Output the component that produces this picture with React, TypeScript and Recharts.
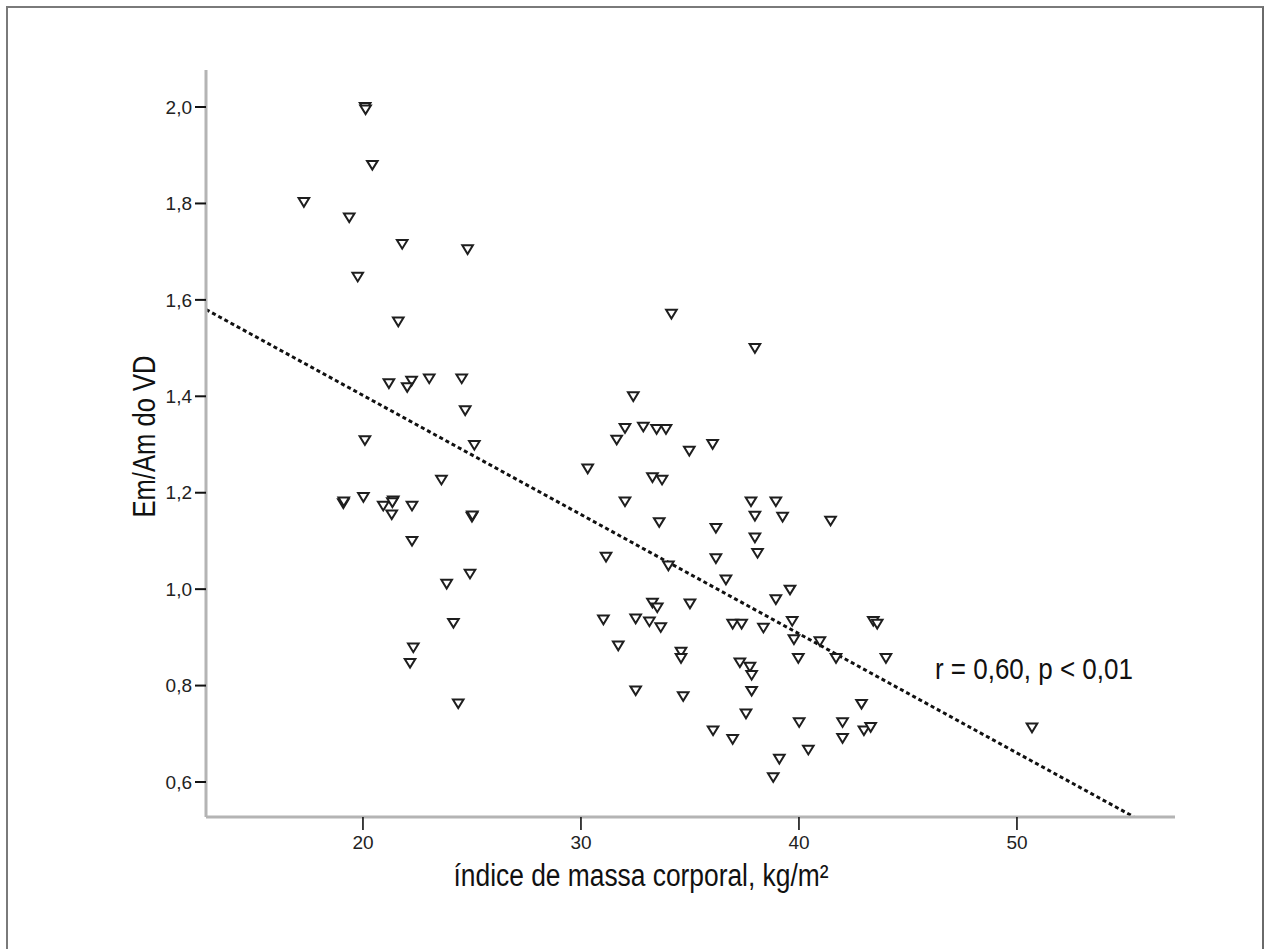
import React from 'react';
import { ScatterChart, Scatter, XAxis, YAxis, ReferenceLine, ReferenceDot } from 'recharts';

// índice de massa corporal (kg/m²)
const bmi = [
  20.1, 20.12, 20.43, 17.29, 19.37, 21.8, 24.8, 19.76, 21.62, 21.19, 22.23, 22.03, 23.04, 24.53,
  24.69, 25.11, 20.09, 23.6, 19.1, 19.12, 20.02, 20.93, 21.39, 21.35, 21.32, 22.25, 25.0, 25.02,
  22.25, 24.91, 23.84, 24.15, 22.31, 22.16, 24.37,
  34.15, 32.4, 32.02, 32.86, 33.47, 33.9, 31.64, 34.97, 36.04, 30.31, 33.28, 33.72, 32.02, 33.59,
  36.19, 31.15, 36.19, 34.01, 36.65, 33.28, 33.5, 35.0, 31.03, 32.51, 33.14, 33.66, 36.96, 37.37,
  31.71, 34.59, 34.59, 37.29, 32.51, 34.69, 36.06, 36.96,
  37.98, 37.8, 38.94, 37.98, 39.25, 41.45, 37.98, 38.1, 39.59, 38.94, 38.37, 39.69, 39.77, 40.96,
  43.41, 43.59, 39.97, 41.7, 43.99, 37.75, 37.83, 37.83, 37.57, 42.87, 40.01, 42.0, 42.0, 42.98,
  43.29, 40.43, 39.1, 38.82, 50.69,
];

// Em/Am do VD
const emAm = [
  2.0, 1.995, 1.88, 1.803, 1.771, 1.716, 1.705, 1.648, 1.555, 1.427, 1.432, 1.419, 1.437, 1.437,
  1.371, 1.299, 1.309, 1.227, 1.178, 1.182, 1.191, 1.173, 1.184, 1.18, 1.155, 1.173, 1.15, 1.153,
  1.1, 1.032, 1.011, 0.93, 0.879, 0.847, 0.763,
  1.571, 1.4, 1.334, 1.337, 1.332, 1.332, 1.31, 1.287, 1.301, 1.25, 1.232, 1.227, 1.182, 1.139,
  1.127, 1.067, 1.064, 1.049, 1.02, 0.972, 0.962, 0.97, 0.937, 0.939, 0.933, 0.921, 0.928, 0.928,
  0.883, 0.87, 0.857, 0.848, 0.79, 0.778, 0.707, 0.689,
  1.5, 1.182, 1.182, 1.152, 1.15, 1.142, 1.107, 1.075, 0.999, 0.979, 0.92, 0.934, 0.896, 0.892,
  0.934, 0.928, 0.857, 0.857, 0.857, 0.839, 0.822, 0.789, 0.742, 0.762, 0.724, 0.724, 0.691, 0.707,
  0.714, 0.667, 0.648, 0.61, 0.713,
];

const xTicks = [20, 30, 40, 50];
const yTicks = [0.6, 0.8, 1.0, 1.2, 1.4, 1.6, 1.8, 2.0];

// regression line endpoints (BMI, Em/Am)
const fitX = [12.8, 55.35];
const fitY = [1.58, 0.528];

const xTitle = 'índice de massa corporal, kg/m²';
const yTitle = 'Em/Am do VD';
const annotation = 'r = 0,60, p < 0,01';
const annotationPos = { x: 50.78, y: 0.836 };

const data = bmi.map((x, i) => ({ x, y: emAm[i] }));
const fitSegment = fitX.map((x, i) => ({ x, y: fitY[i] }));

const narrow = "'Liberation Sans Narrow','Arial Narrow','Liberation Sans',Arial,sans-serif";
const regular = "'Liberation Sans',Arial,sans-serif";

const Triangle = (props: any) => {
  const { cx, cy } = props;
  if (cx == null || cy == null) return null;
  const d = `M${cx - 5.3},${cy - 4} L${cx + 5.3},${cy - 4} L${cx},${cy + 4.7} Z`;
  return <path d={d} fill="#fff" stroke="#1e1e1e" strokeWidth={2} strokeLinejoin="miter" />;
};

const XTitle = (props: any) => {
  const vb = props.viewBox || { x: 0, y: 0, width: 0, height: 0 };
  const left = vb.x + vb.width / 2 - 237;
  const base = vb.y + 69;
  return (
    <text x={left} y={base} fontFamily={narrow} fontSize={31} fill="#111"
      textLength={375} lengthAdjust="spacingAndGlyphs">
      {xTitle}
    </text>
  );
};

const YTitle = (props: any) => {
  const vb = props.viewBox || { x: 0, y: 0, width: 0, height: 0 };
  const bx = vb.x + 29;
  const cy = vb.y + vb.height / 2 - 7;
  return (
    <text x={bx} y={cy} transform={`rotate(-90, ${bx}, ${cy})`} textAnchor="middle"
      fontFamily={narrow} fontSize={31} fill="#111" textLength={162} lengthAdjust="spacingAndGlyphs">
      {yTitle}
    </text>
  );
};

const Annotation = (props: any) => {
  const { cx, cy } = props;
  if (cx == null || cy == null) return null;
  return (
    <text x={cx} y={cy + 11} textAnchor="middle" fontFamily={narrow} fontSize={30} fill="#111"
      textLength={198} lengthAdjust="spacingAndGlyphs">
      {annotation}
    </text>
  );
};

export default function App() {
  return (
    <div style={{ position: 'absolute', left: 0, top: 0, width: 1269, height: 949, overflow: 'hidden', background: '#fff' }}>
      <div style={{
        position: 'absolute', left: 6, top: 6, width: 1258, height: 943, boxSizing: 'border-box',
        borderTop: '2px solid #7a7a7a', borderLeft: '2px solid #7a7a7a', borderRight: '2px solid #6a6a6a',
      }} />
      <div style={{ position: 'absolute', left: 0, top: 0 }}>
        <ScatterChart width={1269} height={949} margin={{ top: 70, right: 94, bottom: 72, left: 126 }}>
          <XAxis
            type="number" dataKey="x" domain={[12.8, 57.25]} ticks={xTicks} allowDataOverflow
            height={60} tickSize={13} tickMargin={6}
            axisLine={{ stroke: '#b4b4b4', strokeWidth: 3 }}
            tickLine={{ stroke: '#111', strokeWidth: 1.6 }}
            tick={{ fill: '#222', fontSize: 19, fontFamily: regular }}
            label={<XTitle />}
          />
          <YAxis
            type="number" dataKey="y" domain={[0.5274, 2.0768]} ticks={yTicks} allowDataOverflow
            width={80} tickSize={11} tickMargin={3}
            tickFormatter={(v: number) => v.toFixed(1).replace('.', ',')}
            axisLine={{ stroke: '#b4b4b4', strokeWidth: 3 }}
            tickLine={{ stroke: '#111', strokeWidth: 2 }}
            tick={{ fill: '#222', fontSize: 19, fontFamily: regular }}
            label={<YTitle />}
          />
          <ReferenceLine segment={fitSegment} stroke="#111" strokeWidth={3} strokeDasharray="4 3" ifOverflow="visible" />
          <Scatter data={data} shape={<Triangle />} isAnimationActive={false} />
          <ReferenceDot x={annotationPos.x} y={annotationPos.y} r={0} shape={<Annotation />} ifOverflow="visible" />
        </ScatterChart>
      </div>
    </div>
  );
}
